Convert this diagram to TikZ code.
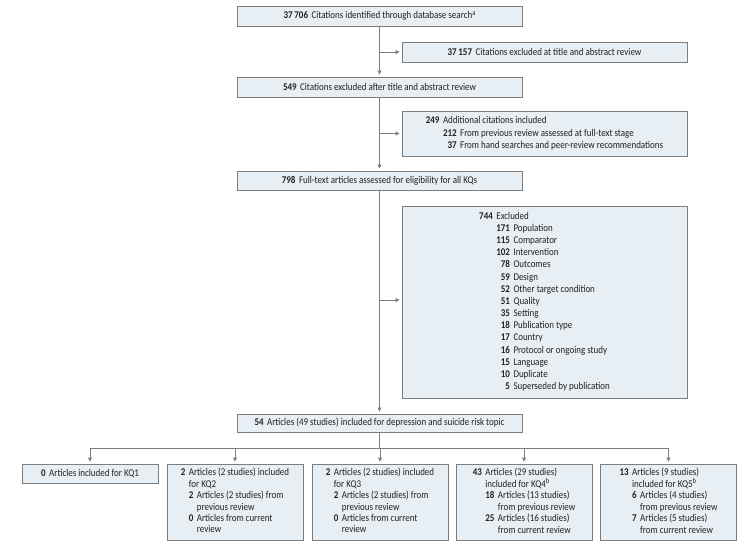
\documentclass[tikz,border=0pt]{standalone}
\usepackage{fontspec}
\setmainfont{Carlito}[FakeStretch=0.87]
\usetikzlibrary{arrows.meta}
\definecolor{boxfill}{RGB}{232,239,244}
\definecolor{linegray}{RGB}{125,125,125}
\definecolor{txt}{RGB}{35,31,32}
\newcommand{\nb}[1]{\textbf{#1}}
\newcommand{\spn}[1]{\multicolumn{2}{@{}l@{}}{#1}}
\newcommand{\gap}{\hspace{3.5pt}}
\newcommand{\sups}[1]{\raisebox{0.35em}{\fontsize{7.5}{8}\selectfont #1}}
\newenvironment{lv}{\begin{tabular}{@{}r@{\hspace{3.5pt}}r@{\hspace{3.5pt}}l@{}}}{\end{tabular}}
\begin{document}
\begin{tikzpicture}[x=1bp,y=-1bp,
  box/.style={draw=linegray, line width=0.9bp, fill=boxfill, inner sep=0pt, text=txt,
    font=\fontsize{10.35}{12}\selectfont},
  wide/.style={box, minimum width=285bp},
  kq/.style={box, minimum width=136bp, font=\fontsize{10.35}{11.5}\selectfont},
  ln/.style={draw=linegray, line width=0.9bp},
  arr/.style={ln, -{Triangle[length=4bp,width=4bp]}, shorten >=2bp}]
\useasboundingbox (0,0) rectangle (751,550);

\node[wide, minimum height=20bp] (b1) at (379.5,16) {\nb{37\,706}\gap Citations identified through database search\sups{a}};
\node[wide, minimum height=20bp] (b2) at (544.5,52) {\nb{37\,157}\gap Citations excluded at title and abstract review};
\node[wide, minimum height=20bp] (b3) at (379.5,87) {\nb{549}\gap Citations excluded after title and abstract review};
\node[wide, minimum height=45bp, font=\fontsize{10.35}{12.8}\selectfont] (b4) at (544.5,133.5) {\begin{lv}
\nb{249} & \spn{Additional citations included}\\
 & \nb{212} & From previous review assessed at full-text stage\\
 & \nb{37} & From hand searches and peer-review recommendations
\end{lv}};
\node[wide, minimum height=19bp] (b5) at (379.5,180.5) {\nb{798}\gap Full-text articles assessed for eligibility for all KQs};
\node[wide, minimum height=192bp, font=\fontsize{10.35}{12.2}\selectfont] (b6) at (544.5,302) {\begin{lv}
\nb{744} & \spn{Excluded}\\
 & \nb{171} & Population\\
 & \nb{115} & Comparator\\
 & \nb{102} & Intervention\\
 & \nb{78} & Outcomes\\
 & \nb{59} & Design\\
 & \nb{52} & Other target condition\\
 & \nb{51} & Quality\\
 & \nb{35} & Setting\\
 & \nb{18} & Publication type\\
 & \nb{17} & Country\\
 & \nb{16} & Protocol or ongoing study\\
 & \nb{15} & Language\\
 & \nb{10} & Duplicate\\
 & \nb{5} & Superseded by publication
\end{lv}};
\node[wide, minimum height=18bp] (b7) at (379.5,423) {\nb{54}\gap Articles (49 studies) included for depression and suicide risk topic};

\node[kq, minimum height=19bp] (k1) at (90,473.5) {\nb{0}\gap Articles included for KQ1};
\node[kq, minimum height=76bp] (k2) at (235,502) {\begin{lv}
\nb{2} & \spn{Articles (2 studies) included}\\
 & \spn{for KQ2}\\
 & \nb{2} & Articles (2 studies) from\\
 & & previous review\\
 & \nb{0} & Articles from current\\
 & & review
\end{lv}};
\node[kq, minimum height=76bp] (k3) at (380,502) {\begin{lv}
\nb{2} & \spn{Articles (2 studies) included}\\
 & \spn{for KQ3}\\
 & \nb{2} & Articles (2 studies) from\\
 & & previous review\\
 & \nb{0} & Articles from current\\
 & & review
\end{lv}};
\node[kq, minimum height=76bp] (k4) at (524,502) {\begin{lv}
\nb{43} & \spn{Articles (29 studies)}\\
 & \spn{included for KQ4\sups{b}}\\
 & \nb{18} & Articles (13 studies)\\
 & & from previous review\\
 & \nb{25} & Articles (16 studies)\\
 & & from current review
\end{lv}};
\node[kq, minimum height=76bp] (k5) at (668.5,502) {\begin{lv}
\nb{13} & \spn{Articles (9 studies)}\\
 & \spn{included for KQ5\sups{b}}\\
 & \nb{6} & Articles (4 studies)\\
 & & from previous review\\
 & \nb{7} & Articles (5 studies)\\
 & & from current review
\end{lv}};

% main spine
\draw[arr] (b1.south) -- (b3.north);
\draw[arr] (b3.south) -- (b5.north);
\draw[arr] (b5.south) -- (b7.north);
\draw[arr] (b1.south |- b2.west) -- (b2.west);
\draw[arr] (b3.south |- b4.west) -- (b4.west);
\coordinate (e6) at (b6.west |- 0,300);
\draw[arr] (b5.south |- e6) -- (e6);
% split to KQ boxes
\coordinate (split) at (379.5,448);
\draw[ln] (b7.south) -- (split);
\draw[ln] (k1.north |- split) -- (k5.north |- split);
\draw[arr] (k1.north |- split) -- (k1.north);
\draw[arr] (k2.north |- split) -- (k2.north);
\draw[arr] (k3.north |- split) -- (k3.north);
\draw[arr] (k4.north |- split) -- (k4.north);
\draw[arr] (k5.north |- split) -- (k5.north);
\end{tikzpicture}
\end{document}
